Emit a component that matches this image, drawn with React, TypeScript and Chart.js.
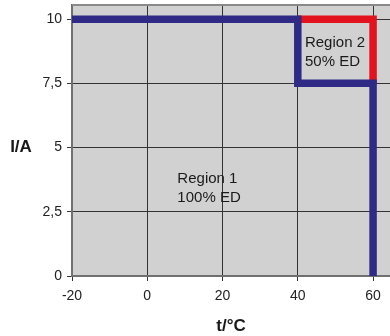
import React, { useEffect, useRef } from "react";
import { Chart, registerables } from "chart.js";

Chart.register(...registerables);

const xTickValues = [-20, 0, 20, 40, 60];
const yTickValues = [0, 2.5, 5, 7.5, 10];
const yTickLabels = ["0", "2,5", "5", "7,5", "10"];

const region1X = [-20, 40, 40, 60, 60];
const region1Y = [10, 10, 7.5, 7.5, 0];
const region2X = [40, 60, 60];
const region2Y = [10, 10, 7.5];

const labelLines = [["Region 1", "100% ED"], ["Region 2", "50% ED"]];
const labelX = [8, 41.9];
const labelY = [3.77, 9.07];

const xTitle = "t/°C";
const yTitle = "I/A";

const FONT = "'Liberation Sans', Arial, sans-serif";

export default function App() {
  const ref = useRef<HTMLCanvasElement>(null);

  useEffect(() => {
    const canvas = ref.current;
    if (!canvas) return;

    const decor = {
      id: "decor",
      beforeDraw(chart: any) {
        const { ctx, chartArea } = chart;
        ctx.save();
        ctx.fillStyle = "#d1d1d1";
        ctx.fillRect(chartArea.left, chartArea.top, chartArea.right - chartArea.left, chartArea.bottom - chartArea.top);
        ctx.restore();
      },
      afterDraw(chart: any) {
        const { ctx, chartArea, scales } = chart;
        ctx.save();
        ctx.strokeStyle = "#8a8a8a";
        ctx.lineWidth = 2;
        ctx.beginPath();
        ctx.moveTo(chartArea.left, chartArea.top);
        ctx.lineTo(chartArea.right, chartArea.top);
        ctx.stroke();
        ctx.fillStyle = "#1a1a1a";
        ctx.font = `15px ${FONT}`;
        ctx.textAlign = "left";
        ctx.textBaseline = "middle";
        labelLines.forEach((lines, i) => {
          const px = scales.x.getPixelForValue(labelX[i]);
          const py = scales.y.getPixelForValue(labelY[i]);
          lines.forEach((t, j) => ctx.fillText(t, px, py + j * 18.5));
        });
        ctx.fillStyle = "#1a1a1a";
        ctx.font = `bold 17px ${FONT}`;
        ctx.textAlign = "center";
        ctx.fillText(xTitle, (chartArea.left + chartArea.right) / 2, 326);
        ctx.fillText(yTitle, 21, 147);
        ctx.restore();
      },
    };

    const chart = new Chart(canvas, {
      type: "line",
      data: {
        datasets: [
          {
            data: region1X.map((x, i) => ({ x, y: region1Y[i] })),
            borderColor: "#2e2a86",
            borderWidth: 7.5,
            pointRadius: 0,
            borderJoinStyle: "miter",
            borderCapStyle: "butt",
            fill: false,
            tension: 0,
            order: 0,
          },
          {
            data: region2X.map((x, i) => ({ x, y: region2Y[i] })),
            borderColor: "#e3121f",
            borderWidth: 7.5,
            pointRadius: 0,
            borderJoinStyle: "miter",
            borderCapStyle: "butt",
            fill: false,
            tension: 0,
            order: 1,
          },
        ],
      },
      options: {
        animation: false,
        responsive: false,
        layout: { padding: { top: 5, right: 0, left: 0, bottom: 0 } },
        plugins: { legend: { display: false }, tooltip: { enabled: false } },
        scales: {
          x: {
            type: "linear",
            min: -20,
            max: 64.5,
            afterBuildTicks: (s: any) => {
              s.ticks = xTickValues.map((v) => ({ value: v }));
            },
            afterFit: (s: any) => {
              s.height = 60;
              s.paddingLeft = 0;
              s.paddingRight = 0;
            },
            ticks: {
              color: "#222",
              font: { family: FONT, size: 14 },
              padding: 7,
              maxRotation: 0,
              callback: (v: any) => String(v),
            },
            grid: { color: "#333", lineWidth: 1, tickLength: 5, tickColor: "#333" },
            border: { color: "#707070", width: 2 },
          },
          y: {
            type: "linear",
            min: 0,
            max: 10.55,
            afterBuildTicks: (s: any) => {
              s.ticks = yTickValues.map((v) => ({ value: v }));
            },
            afterFit: (s: any) => {
              s.width = 72;
              s.paddingTop = 0;
              s.paddingBottom = 0;
            },
            ticks: {
              color: "#222",
              font: { family: FONT, size: 14 },
              padding: 5,
              callback: (v: any) => {
                const i = yTickValues.indexOf(Number(v));
                return i >= 0 ? yTickLabels[i] : "";
              },
            },
            grid: { color: "#333", lineWidth: 1, tickLength: 5, tickColor: "#333" },
            border: { color: "#707070", width: 2 },
          },
        },
      },
      plugins: [decor],
    } as any);

    return () => chart.destroy();
  }, []);

  return (
    <div style={{ position: "absolute", left: 0, top: 0, width: 390, height: 336, background: "#fff" }}>
      <canvas ref={ref} width={390} height={336} style={{ display: "block" }} />
    </div>
  );
}
